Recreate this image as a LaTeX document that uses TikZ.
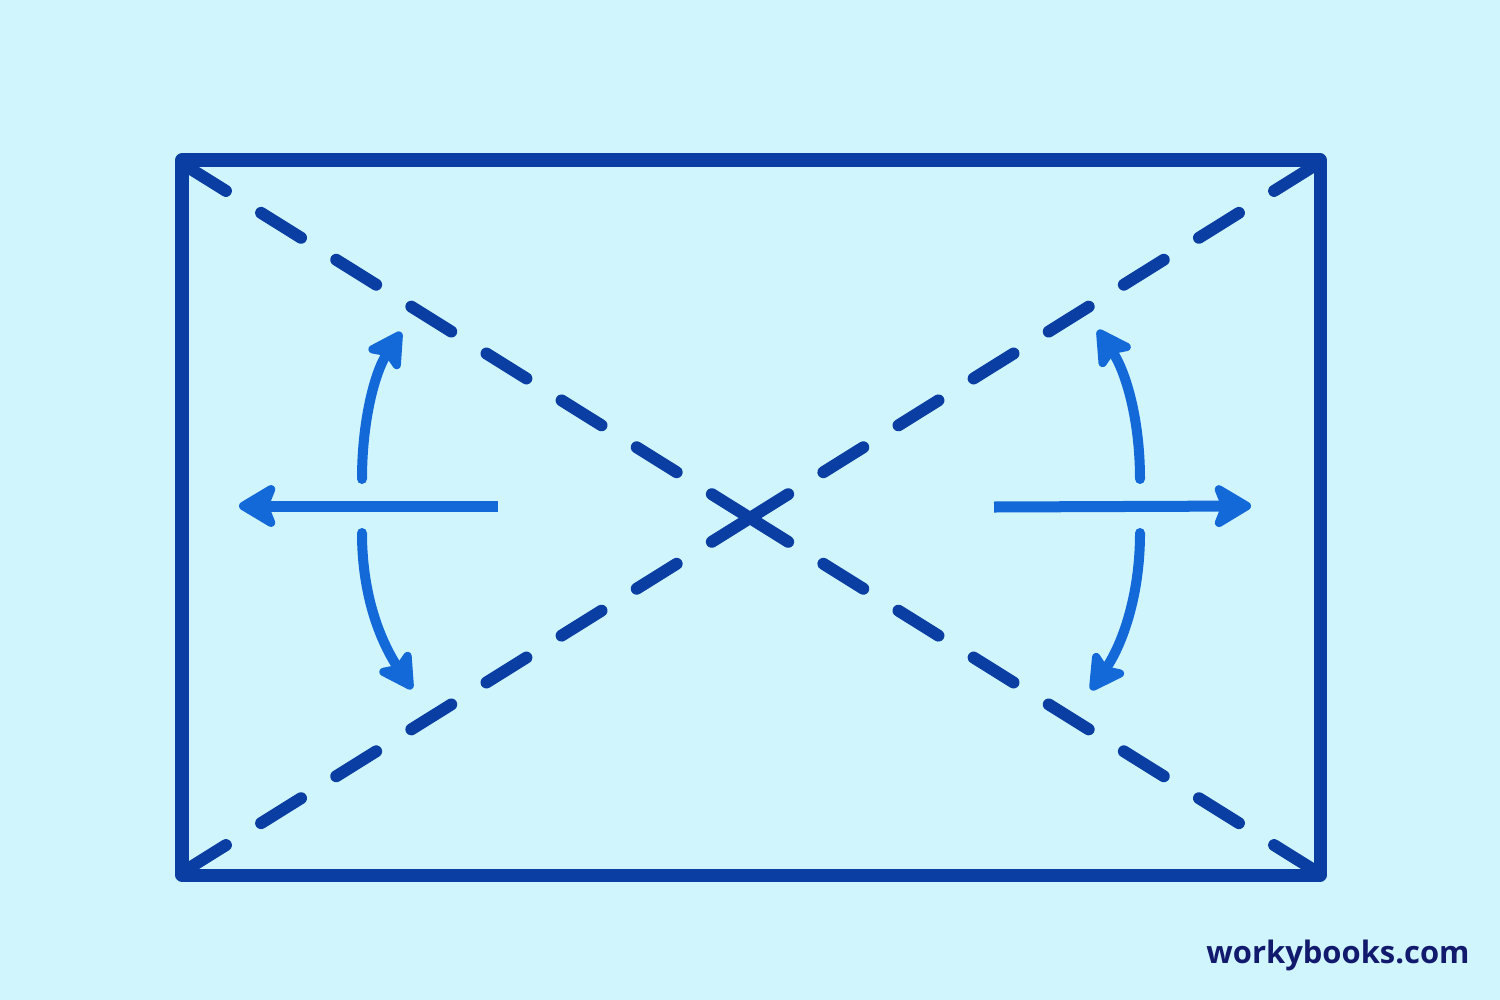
\documentclass[tikz,border=0pt]{standalone}
\usepackage{fontspec}
\usepackage{graphicx}
\setmainfont{Open Sans}
\usetikzlibrary{arrows.meta,calc}
\definecolor{bgc}{HTML}{D1F5FC}
\definecolor{framec}{HTML}{0B3EA3}
\definecolor{arrc}{HTML}{1469D8}
\definecolor{txtc}{HTML}{121A6E}
\begin{document}
\begin{tikzpicture}[x=0.01cm,y=-0.01cm,
  framestyle/.style={draw=framec,line width=0.13cm,line join=round},
  diagstyle/.style={draw=framec,line width=0.12cm,line cap=round,dash pattern=on 0.47cm off 0.415cm},
  straightarrow/.style={draw=arrc,line width=0.11cm,-{Stealth[length=0.44cm,width=0.52cm,inset=0.1cm,round]}},
  curvearrow/.style={draw=arrc,line width=0.10cm,line cap=round,-{Stealth[length=0.42cm,width=0.46cm,inset=0.09cm,round]}}]
  % background and bounding box
  \fill[bgc] (0,0) rectangle (1500,1000);
  \useasboundingbox (0,0) rectangle (1500,1000);
  % corners
  \coordinate (TL) at (182,160);
  \coordinate (BR) at (1320,875);
  \coordinate (dTL) at (186,166);
  \coordinate (dBR) at (1314,870);
  \coordinate (dBL) at (186,870);
  \coordinate (dTR) at (1314,166);
  \coordinate (ctr) at ($(dTL)!0.5!(dBR)$);
  % frame
  \draw[framestyle] (TL) rectangle (BR);
  % diagonals, each dashed from its corner to the centre
  \draw[diagstyle] (dTL) -- (ctr);
  \draw[diagstyle] (dBR) -- (ctr);
  \draw[diagstyle] (dBL) -- (ctr);
  \draw[diagstyle] (dTR) -- (ctr);
  % left arrows
  \coordinate (ls) at (498,506);
  \coordinate (lt) at (239,506);
  \draw[straightarrow] (ls) -- (lt);
  \coordinate (lus) at (362,479);
  \coordinate (lut) at (401,332);
  \draw[curvearrow] (lus) .. controls (362,420) and (375,372) .. (lut);
  \coordinate (lds) at (362,533);
  \coordinate (ldt) at (412,689);
  \draw[curvearrow] (lds) .. controls (362,600) and (383,645) .. (ldt);
  % right arrows
  \coordinate (rs) at (994,507);
  \coordinate (rt) at (1251,506);
  \draw[straightarrow] (rs) -- (rt);
  \coordinate (rus) at (1140,479);
  \coordinate (rut) at (1098,330);
  \draw[curvearrow] (rus) .. controls (1140,420) and (1126,372) .. (rut);
  \coordinate (rds) at (1140,533);
  \coordinate (rdt) at (1091,690);
  \draw[curvearrow] (rds) .. controls (1140,600) and (1120,648) .. (rdt);
  % brand
  \node[inner sep=0pt, text=txtc, font=\bfseries] (brand) at (1338,955) {\resizebox{2.63cm}{!}{workybooks.com}};
\end{tikzpicture}
\end{document}
